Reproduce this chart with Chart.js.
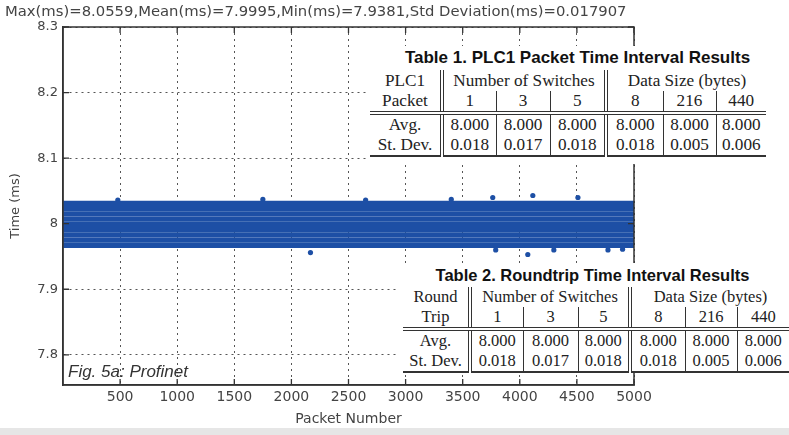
<!DOCTYPE html>
<html>
<head>
<meta charset="utf-8">
<script src="https://cdn.jsdelivr.net/npm/chart.js@4.4.1/dist/chart.umd.min.js"></script>
<style>
  body { margin: 0; background: #fff; }
  #wrap { position: relative; width: 789px; height: 435px; overflow: hidden; background: #fff; }
  #c { position: absolute; left: 0; top: 0; }
  #top { position: absolute; left: 5px; top: 2px; font: 14.8px 'DejaVu Sans', sans-serif; color: #444; white-space: nowrap; }
  #fig { position: absolute; left: 68px; top: 362px; font: italic 17px 'Liberation Sans Narrow', 'Liberation Sans', sans-serif; color: #333; }
  #strip { position: absolute; left: 0; top: 428px; width: 789px; height: 7px; background: #e6e6e6; }
  .tbl { position: absolute; background: #fff; color: #222; }
  .tbl .cap { font-weight: bold; font-family: 'Liberation Sans', Arial, sans-serif; text-align: center; color: #111; white-space: nowrap; }
  .tbl table { border-collapse: collapse; table-layout: fixed; font-family: 'Liberation Serif', 'Times New Roman', serif; }
  .tbl td { text-align: center; padding: 0; white-space: nowrap; }
  .tbl td.dl { border-left: 4px double #333; }
  .tbl td.sl { border-left: 1px solid #333; }
  .tbl tr.h2 td { border-bottom: 4px double #333; }
  .tbl tr.last td { border-bottom: 2px solid #333; }
</style>
</head>
<body>
<div id="wrap">
  <canvas id="c" width="789" height="428"></canvas>
  <div id="top"></div>
  <div id="fig">Fig. 5a: Profinet</div>
  <div class="tbl" id="t1" style="left:366px; top:46px; width:423px; height:118px;"></div>
  <div class="tbl" id="t2" style="left:396px; top:263px; width:393px; height:110px;"></div>
  <div id="strip"></div>
</div>
<script>
// summary line
const summaryText = 'Max(ms)=8.0559,Mean(ms)=7.9995,Min(ms)=7.9381,Std Deviation(ms)=0.017907';

// packet interval band: quantised levels (ms) spanning the packet range
const packetRange = [1, 5000];
const bandLevels = [8.031, 8.023, 8.015, 8.007, 7.999, 7.991, 7.983, 7.975, 7.967];

// stray packets outside the band
const strayPackets = [480, 1750, 2167, 2650, 3400, 3763, 3789, 4070, 4114, 4298, 4509, 4772, 4900];
const strayTimes   = [8.036, 8.037, 7.956, 8.036, 8.037, 8.040, 7.960, 7.953, 8.043, 7.960, 8.040, 7.960, 7.961];

// axis ticks
const xTicks = [500, 1000, 1500, 2000, 2500, 3000, 3500, 4000, 4500, 5000];
const yTicks = [7.8, 7.9, 8, 8.1, 8.2, 8.3];

// tables
const switchCounts = ['1', '3', '5'];
const dataSizes = ['8', '216', '440'];
const t1Title = 'Table 1. PLC1 Packet Time Interval Results';
const t1Head = ['PLC1', 'Packet'];
const t1Avg = ['8.000', '8.000', '8.000', '8.000', '8.000', '8.000'];
const t1Std = ['0.018', '0.017', '0.018', '0.018', '0.005', '0.006'];
const t2Title = 'Table 2. Roundtrip Time Interval Results';
const t2Head = ['Round', 'Trip'];
const t2Avg = ['8.000', '8.000', '8.000', '8.000', '8.000', '8.000'];
const t2Std = ['0.018', '0.017', '0.018', '0.018', '0.005', '0.006'];

document.getElementById('top').textContent = summaryText;

function buildTable(el, title, head, avg, std, cols, fs, capFs, hRows, dRows, capH, ml) {
  const sep = i => (i === 0 || i === 3) ? 'dl' : 'sl';
  let h = `<div class="cap" style="height:${capH}px;line-height:${capH}px;font-size:${capFs}px">${title}</div>`;
  h += `<table style="font-size:${fs}px;margin-left:${ml}px"><colgroup>` + cols.map(w => `<col style="width:${w}px">`).join('') + '</colgroup>';
  h += `<tr style="height:${hRows[0]}px"><td>${head[0]}</td><td class="dl" colspan="3">Number of Switches</td><td class="dl" colspan="3">Data Size (bytes)</td></tr>`;
  h += `<tr class="h2" style="height:${hRows[1]}px"><td>${head[1]}</td>` +
       switchCounts.concat(dataSizes).map((v, i) => `<td class="${sep(i)}">${v}</td>`).join('') + '</tr>';
  h += `<tr style="height:${dRows[0]}px"><td>Avg.</td>` + avg.map((v, i) => `<td class="${sep(i)}">${v}</td>`).join('') + '</tr>';
  h += `<tr class="last" style="height:${dRows[1]}px"><td>St. Dev.</td>` + std.map((v, i) => `<td class="${sep(i)}">${v}</td>`).join('') + '</tr>';
  h += '</table>';
  el.innerHTML = h;
}
buildTable(document.getElementById('t1'), t1Title, t1Head, t1Avg, t1Std,
  [72, 54, 54, 56, 57, 53, 50], 17.2, 17, [21, 21], [21, 20], 24, 4);
buildTable(document.getElementById('t2'), t2Title, t2Head, t2Avg, t2Std,
  [67, 53, 55, 52, 55, 52, 52], 16.5, 16.5, [18, 19], [20, 20], 24, 7);

const blue = '#1d4fa5';

const datasets = bandLevels.map(lvl => ({
  type: 'line',
  data: packetRange.map(p => ({ x: p, y: lvl })),
  borderColor: blue,
  borderWidth: 5.2,
  borderCapStyle: 'butt',
  pointRadius: 0,
  fill: false
}));
datasets.push({
  type: 'scatter',
  data: strayPackets.map((p, i) => ({ x: p, y: strayTimes[i] })),
  backgroundColor: blue,
  borderColor: blue,
  pointRadius: 2.6,
  borderWidth: 0
});

const frame = {
  id: 'frame',
  afterDraw(chart) {
    const { ctx, chartArea: a, scales: { x, y } } = chart;
    ctx.save();
    ctx.strokeStyle = '#333';
    ctx.lineWidth = 1.5;
    ctx.strokeRect(a.left, a.top, a.right - a.left, a.bottom - a.top);
    ctx.lineWidth = 1.3;
    ctx.beginPath();
    xTicks.forEach(v => {
      const px = x.getPixelForValue(v);
      ctx.moveTo(px, a.bottom); ctx.lineTo(px, a.bottom - 6);
      ctx.moveTo(px, a.top); ctx.lineTo(px, a.top + 6);
    });
    yTicks.forEach(v => {
      const py = y.getPixelForValue(v);
      ctx.moveTo(a.left, py); ctx.lineTo(a.left + 6, py);
      ctx.moveTo(a.right, py); ctx.lineTo(a.right - 6, py);
    });
    ctx.stroke();
    ctx.restore();
  }
};

new Chart(document.getElementById('c'), {
  type: 'scatter',
  data: { datasets },
  options: {
    responsive: false,
    animation: false,
    events: [],
    layout: { padding: { top: 27, right: 155, left: 0, bottom: 0 } },
    plugins: { legend: { display: false }, tooltip: { enabled: false } },
    scales: {
      x: {
        type: 'linear', min: 0, max: 5000,
        afterBuildTicks: s => { s.ticks = xTicks.map(v => ({ value: v })); },
        afterFit: s => { s.height = 43; },
        ticks: { color: '#444', font: { family: 'DejaVu Sans', size: 14 }, padding: 4, maxRotation: 0, callback: v => String(v) },
        grid: { color: '#555', lineWidth: 1, drawTicks: false },
        border: { display: true, color: '#333', width: 1.5, dash: [2, 4] },
        title: { display: true, text: 'Packet Number', color: '#444', font: { family: 'DejaVu Sans', size: 14 }, padding: { top: 0, bottom: 0 } }
      },
      y: {
        type: 'linear', min: 7.754, max: 8.3,
        afterBuildTicks: s => { s.ticks = yTicks.map(v => ({ value: v })); },
        afterFit: s => { s.width = 63; },
        ticks: { color: '#444', font: { family: 'DejaVu Sans', size: 13 }, padding: 5, callback: v => String(+v.toFixed(1)) },
        grid: { color: '#555', lineWidth: 1, drawTicks: false },
        border: { display: true, color: '#333', width: 1.5, dash: [2, 4] },
        title: { display: true, text: 'Time (ms)', color: '#444', font: { family: 'DejaVu Sans', size: 13 }, padding: { top: 8, bottom: 2 } }
      }
    }
  },
  plugins: [frame]
});
</script>
</body>
</html>
